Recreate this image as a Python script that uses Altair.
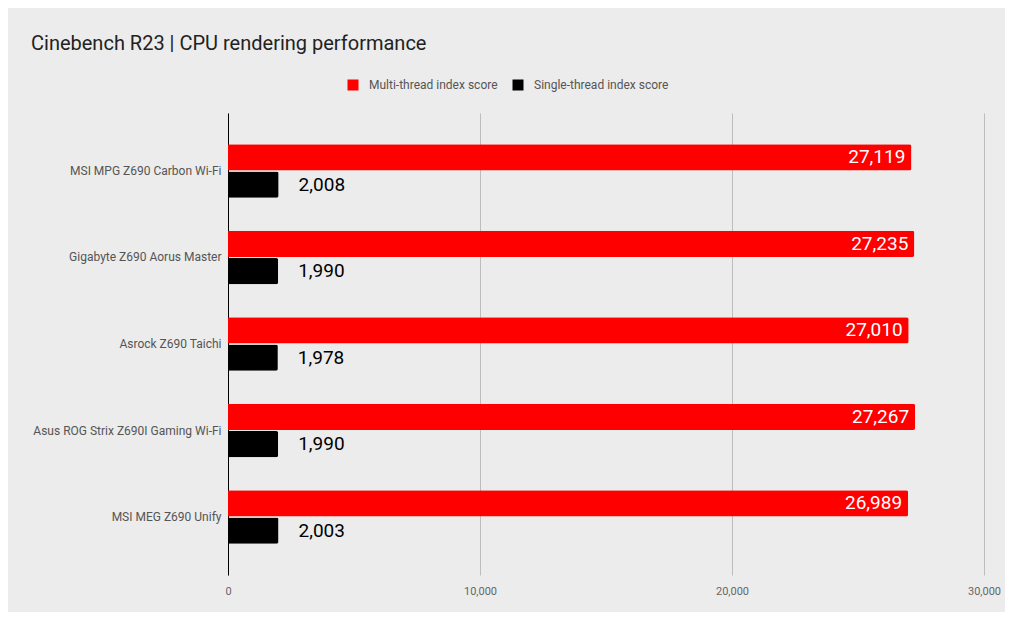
import altair as alt
import pandas as pd

boards = ['MSI MPG Z690 Carbon Wi-Fi', 'Gigabyte Z690 Aorus Master', 'Asrock Z690 Taichi',
          'Asus ROG Strix Z690I Gaming Wi-Fi', 'MSI MEG Z690 Unify']
multi_thread = [27119, 27235, 27010, 27267, 26989]
single_thread = [2008, 1990, 1978, 1990, 2003]
series = ['Multi-thread index score', 'Single-thread index score']

rows = []
for i in range(len(boards)):
    rows.append([boards[i], series[0], multi_thread[i], 0])
    rows.append([boards[i], series[1], single_thread[i], 1])
df = pd.DataFrame(rows, columns=['board', 'series', 'score', 'order'])

font = 'Roboto'
y_enc = alt.Y('board:N', sort=boards, title=None,
              scale=alt.Scale(paddingInner=0.38, paddingOuter=0.36),
              axis=alt.Axis(labelFont=font, labelFontSize=12, labelColor='#555555',
                            labelPadding=7, labelLimit=0, ticks=False, domain=True,
                            domainColor='#000000', minExtent=220, maxExtent=220))
yoff = alt.YOffset('order:O', scale=alt.Scale(paddingInner=0.04))

bars = alt.Chart(df).mark_bar(cornerRadiusEnd=2).encode(
    x=alt.X('score:Q', title=None, scale=alt.Scale(domain=[0, 30000], nice=False),
            axis=alt.Axis(values=[0, 10000, 20000, 30000], format=',.0f', labelFont=font,
                          labelFontSize=11, labelColor='#666666', labelPadding=10,
                          labelFlush=False, ticks=False, domain=False, grid=True,
                          gridColor='#bdbdbd')),
    y=y_enc,
    yOffset=yoff,
    color=alt.Color('series:N', scale=alt.Scale(domain=series, range=['#ff0000', '#000000']),
                    legend=alt.Legend(title=None, orient='none', direction='horizontal',
                                      legendX=119, legendY=-34, symbolType='square',
                                      symbolSize=121, symbolStrokeWidth=0, labelFont=font,
                                      labelFontSize=12, labelColor='#555555',
                                      columnPadding=14, labelOffset=10)),
)

multi_labels = alt.Chart(df).transform_filter(alt.datum.order == 0).mark_text(
    align='right', baseline='middle', dx=-6, font=font, fontSize=19, color='#ffffff'
).encode(
    x='score:Q', y=y_enc, yOffset=yoff, text=alt.Text('score:Q', format=',')
)

single_labels = alt.Chart(df).transform_filter(alt.datum.order == 1).mark_text(
    align='left', baseline='middle', dx=20, font=font, fontSize=19, color='#000000'
).encode(
    x='score:Q', y=y_enc, yOffset=yoff, text=alt.Text('score:Q', format=',')
)

chart = alt.layer(bars, multi_labels, single_labels).properties(
    width=756, height=462,
    background='#ececec',
    padding={'left': 0, 'top': 26, 'right': 4, 'bottom': 16},
    title=alt.TitleParams('Cinebench R23 | CPU rendering performance', anchor='start',
                          frame='group', dx=-197, offset=25, font=font, fontSize=20,
                          fontWeight='normal', color='#222222'),
).configure_view(stroke=None)

chart.save("out.html", embed_options={"renderer": "svg", "actions": False})
